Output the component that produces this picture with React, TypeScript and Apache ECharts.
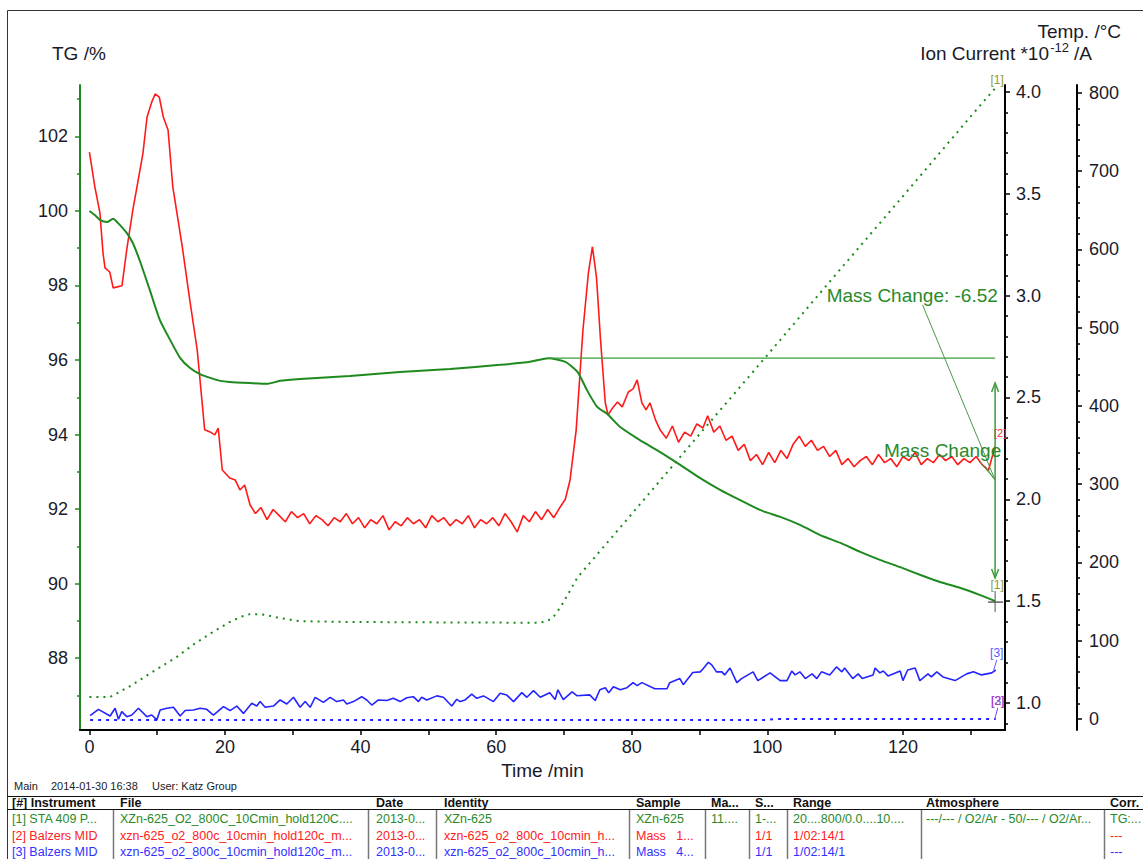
import React, { useEffect, useRef } from "react";
import * as echarts from "echarts";

// ---------- DATA ----------
// TG curve (time /min, TG /%)
const tgCurve: number[][] = [
  [0, 100.0], [0.8, 99.89], [1.55, 99.76], [2.6, 99.7], [3.5, 99.79], [4.2, 99.68], [5.5, 99.41], [6.4, 99.14],
  [7.5, 98.63], [8.9, 97.88], [10.4, 97.07], [11.9, 96.54], [13.4, 96.05], [14.8, 95.79], [16.3, 95.62],
  [17.8, 95.52], [19.3, 95.44], [20.7, 95.41], [23.7, 95.38], [26.2, 95.36], [28.1, 95.44], [31.1, 95.49],
  [38.4, 95.57], [45.8, 95.68], [53.2, 95.76], [60.6, 95.87], [65.0, 95.95], [67.7, 96.05], [70.2, 95.95],
  [72.0, 95.68], [73.4, 95.19], [74.9, 94.74], [76.4, 94.55], [78.3, 94.2], [81.2, 93.85], [84.2, 93.53],
  [87.2, 93.18], [90.1, 92.83], [93.1, 92.51], [96.0, 92.24], [99.0, 91.97], [101.9, 91.79], [104.9, 91.57],
  [107.8, 91.3], [110.8, 91.09], [113.7, 90.85], [116.7, 90.63], [119.6, 90.44], [122.6, 90.23], [125.5, 90.04],
  [128.5, 89.88], [131.4, 89.69], [133.6, 89.53],
];

// Temperature (time /min, °C)
const tempCurve: number[][] = [
  [0, 28], [3, 28], [4.1, 33], [6, 42], [8, 53], [10.4, 66], [13, 80], [15.3, 95], [18, 110], [20.7, 124],
  [22.5, 131], [23.7, 134], [25.2, 134], [26.5, 132], [28.1, 129], [31, 125], [38.4, 124], [50, 123.5],
  [66.5, 123], [67.7, 126], [68.5, 131], [69.5, 143], [70.5, 158], [72, 181], [80, 262], [90, 364],
  [100, 465], [110, 567], [120, 668], [130, 770], [133.6, 806],
];

// [2] Ion current, red trace
const ionRed: number[][] = [
  [0, 3.705], [0.8, 3.534], [1.55, 3.406], [2.0, 3.21], [2.3, 3.136], [3.0, 3.116], [3.5, 3.038], [4.8, 3.048],
  [5.5, 3.224], [6.4, 3.42], [7.2, 3.568], [7.9, 3.7], [8.5, 3.877], [9.2, 3.951], [9.7, 3.99], [10.3, 3.975],
  [10.9, 3.877], [11.6, 3.813], [12.3, 3.534], [13.7, 3.239], [14.8, 2.979], [15.9, 2.733], [17.0, 2.341],
  [17.8, 2.331], [18.5, 2.316], [19.0, 2.35], [19.6, 2.144], [20.7, 2.105], [21.5, 2.095], [22.2, 2.046],
  [22.9, 2.07], [23.7, 1.972],
  [24.5, 1.93], [25.3, 1.96], [26.2, 1.9], [27.1, 1.95], [28.0, 1.92], [28.9, 1.89], [29.8, 1.94], [30.7, 1.91],
  [31.6, 1.93], [32.5, 1.88], [33.4, 1.92], [34.3, 1.9], [35.2, 1.87], [36.1, 1.91], [37.0, 1.89], [37.9, 1.93],
  [38.8, 1.88], [39.7, 1.91], [40.6, 1.86], [41.5, 1.9], [42.4, 1.88], [43.3, 1.92], [44.2, 1.85], [45.1, 1.89],
  [46.0, 1.87], [46.9, 1.91], [47.8, 1.88], [48.7, 1.9], [49.6, 1.86], [50.5, 1.92], [51.4, 1.89], [52.3, 1.91],
  [53.2, 1.87], [54.1, 1.9], [55.0, 1.88], [55.9, 1.92], [56.8, 1.86], [57.7, 1.9], [58.6, 1.88], [59.5, 1.91],
  [60.4, 1.87], [61.3, 1.93], [62.2, 1.89], [63.1, 1.84], [64.0, 1.92], [64.9, 1.89], [65.8, 1.94], [66.7, 1.9],
  [67.6, 1.95], [68.5, 1.91], [69.4, 1.96],
  [70.2, 2.0], [70.9, 2.095], [71.8, 2.34], [72.8, 2.83], [73.6, 3.11], [74.2, 3.24], [74.8, 3.09], [75.4, 2.78],
  [76.1, 2.473], [76.5, 2.414], [77.2, 2.45], [77.9, 2.478], [78.6, 2.454], [79.5, 2.527], [80.2, 2.542],
  [80.8, 2.586], [81.5, 2.473], [82.1, 2.439], [82.7, 2.473], [83.5, 2.39], [84.2, 2.34],
  [85.1, 2.3], [86.0, 2.36], [86.9, 2.28], [87.8, 2.33], [88.7, 2.31], [89.6, 2.37], [90.5, 2.35], [91.2, 2.41],
  [92.1, 2.33], [93.0, 2.36], [93.9, 2.29], [94.8, 2.31], [95.7, 2.24], [96.6, 2.27], [97.5, 2.19], [98.4, 2.22],
  [99.3, 2.17], [100.2, 2.23], [101.1, 2.18], [102.0, 2.24], [102.9, 2.2], [103.8, 2.27], [104.7, 2.31],
  [105.6, 2.26], [106.5, 2.29], [107.4, 2.24], [108.3, 2.26], [109.2, 2.21], [110.1, 2.24], [111.0, 2.17],
  [111.9, 2.2], [112.8, 2.16], [113.7, 2.19], [114.6, 2.21], [115.5, 2.17], [116.4, 2.22], [117.3, 2.18],
  [118.2, 2.2], [119.1, 2.16], [120.0, 2.21], [120.9, 2.19], [121.8, 2.23], [122.7, 2.17], [123.6, 2.2],
  [124.5, 2.18], [125.4, 2.22], [126.3, 2.19], [127.2, 2.21], [128.1, 2.17], [129.0, 2.2], [129.9, 2.18],
  [130.8, 2.21], [131.7, 2.17], [132.6, 2.14], [133.1, 2.2], [133.6, 2.26],
];

// [3] Ion current, blue solid trace
const ionBlue: number[][] = [
  [0.1, 0.938], [1.33, 0.969], [3.05, 0.936], [3.79, 0.974], [4.28, 0.92], [4.77, 0.958], [5.51, 0.933],
  [6.25, 0.941], [7.23, 0.974], [8.46, 0.933], [9.2, 0.941], [9.94, 0.917], [10.43, 0.966], [11.41, 0.974],
  [12.4, 0.979], [13.38, 0.936], [14.12, 0.963], [15.34, 0.966], [16.33, 0.974], [17.31, 0.969], [18.29, 0.941],
  [19.77, 0.982], [20.75, 0.963], [21.73, 0.985], [22.72, 0.949], [23.95, 0.999], [24.69, 0.985], [25.18, 1.007],
  [25.92, 0.979], [27.15, 0.985], [28.13, 1.015], [29.12, 0.995], [30.1, 1.028], [31.08, 0.979], [31.82, 1.007],
  [32.56, 0.979], [33.3, 1.028], [34.52, 1.003], [35.51, 1.028], [36.49, 1.007], [37.47, 1.015], [37.96, 0.995],
  [38.95, 1.007], [40.17, 1.031], [40.91, 1.015], [41.65, 0.99], [42.63, 1.015], [43.86, 1.012], [44.84, 1.023],
  [45.83, 1.007], [46.81, 1.026], [47.79, 1.031], [48.53, 1.007], [49.02, 1.028], [49.76, 1.015], [51.24, 1.035],
  [52.22, 1.028], [53.45, 0.985], [54.19, 1.018], [54.68, 1.007], [55.42, 1.015], [56.4, 1.044], [57.14, 1.023],
  [58.13, 1.035], [59.6, 1.007], [60.59, 1.048], [61.57, 1.039], [62.56, 1.007], [63.79, 1.051], [64.53, 1.028],
  [65.51, 1.061], [66.5, 1.028], [67.9, 1.05], [68.7, 1.017], [69.1, 1.065], [69.9, 1.017], [71.2, 1.055],
  [71.9, 1.036], [73.8, 1.04], [74.6, 1.012], [75.3, 1.065], [76.1, 1.075], [76.6, 1.05], [77.3, 1.08],
  [78.3, 1.065], [79.3, 1.075], [80.2, 1.1], [80.8, 1.085], [81.5, 1.1], [83.4, 1.07], [85.2, 1.07], [85.6, 1.1],
  [87.1, 1.12], [87.6, 1.09], [89.0, 1.15], [90.1, 1.153], [90.5, 1.167], [91.3, 1.2], [91.8, 1.187],
  [92.5, 1.153], [93.3, 1.153], [93.7, 1.138], [94.5, 1.172], [95.5, 1.1], [96.2, 1.12], [97.9, 1.153],
  [98.6, 1.11], [100.4, 1.148], [101.9, 1.11], [102.9, 1.11], [103.6, 1.157], [104.1, 1.138], [104.8, 1.153],
  [105.6, 1.12], [106.6, 1.143], [107.3, 1.12], [108.0, 1.153], [109.2, 1.138], [110.2, 1.177], [111.0, 1.153],
  [111.4, 1.172], [112.6, 1.12], [113.4, 1.143], [114.0, 1.12], [115.6, 1.138], [115.9, 1.172], [116.6, 1.148],
  [117.1, 1.157], [117.8, 1.133], [119.6, 1.157], [120.0, 1.11], [120.7, 1.162], [121.8, 1.172], [122.5, 1.11],
  [123.7, 1.143], [124.2, 1.128], [125.0, 1.153], [125.9, 1.128], [127.7, 1.11], [129.4, 1.143], [130.4, 1.153],
  [131.6, 1.138], [133.1, 1.148], [133.7, 1.162],
];

// Ion current, blue dotted trace
const ionBlueDotted: number[][] = [
  [0.1, 0.917], [50, 0.917], [100, 0.917], [101, 0.921], [133.7, 0.922],
];

// Mass change annotation (time, TG)
const massStepStart = [67.7, 96.05];
const massStepEnd = [133.6, 89.53];
const massChangeText = "Mass Change: -6.52";

// Tick labels
const xLabels = [0, 20, 40, 60, 80, 100, 120];
const xTicks = [0, 10, 20, 30, 40, 50, 60, 70, 80, 90, 100, 110, 120, 130];
const tgLabels = [88, 90, 92, 94, 96, 98, 100, 102];
const tgMinor = [87, 89, 91, 93, 95, 97, 99, 101, 103];
const ionLabels = [1.0, 1.5, 2.0, 2.5, 3.0, 3.5, 4.0];
const ionMinor = [0.9, 1.1, 1.2, 1.3, 1.4, 1.6, 1.7, 1.8, 1.9, 2.1, 2.2, 2.3, 2.4, 2.6, 2.7, 2.8, 2.9, 3.1, 3.2, 3.3, 3.4, 3.6, 3.7, 3.8, 3.9];
const tempLabels = [0, 100, 200, 300, 400, 500, 600, 700, 800];
const tempMinor = [20, 40, 60, 80, 120, 140, 160, 180, 220, 240, 260, 280, 320, 340, 360, 380, 420, 440, 460, 480, 520, 540, 560, 580, 620, 640, 660, 680, 720, 740, 760, 780];

// Footer table
const footerItems = ["Main", "2014-01-30 16:38", "User: Katz Group"];
const tableHeader = ["[#] Instrument", "File", "Date", "Identity", "Sample", "Ma...", "S...", "Range", "Atmosphere", "Corr."];
const tableRow1 = ["[1] STA 409 P...", "XZn-625_O2_800C_10Cmin_hold120C....", "2013-0...", "XZn-625", "XZn-625", "11....", "1-...", "20....800/0.0....10....", "---/--- / O2/Ar - 50/--- / O2/Ar...", "TG:..."];
const tableRow2 = ["[2] Balzers MID", "xzn-625_o2_800c_10cmin_hold120c_m...", "2013-0...", "xzn-625_o2_800c_10cmin_h...", "Mass\u00a0\u00a0\u00a01...", "", "1/1", "1/02:14/1", "", "---"];
const tableRow3 = ["[3] Balzers MID", "xzn-625_o2_800c_10cmin_hold120c_m...", "2013-0...", "xzn-625_o2_800c_10cmin_h...", "Mass\u00a0\u00a0\u00a04...", "", "1/1", "1/02:14/1", "", "---"];

// ---------- STYLE / LAYOUT ----------
const FONT = '"Liberation Sans", Arial, Helvetica, sans-serif';
const GREEN = "#1e8a1e";
const ANNO_GREEN = "#3c9c3c";
const RED = "#ff1a1a";
const BLUE = "#2424ff";
const LABEL = "#1a1a2a";
const colX = [12, 120, 376, 444, 636, 711, 755, 793, 926, 1110];
const colSep = [113, 368, 436, 629, 705, 749, 787, 921, 1104];

function txt(x: number, y: number, text: string, size: number, fill: string, align = "left", weight = "normal", vAlign = "middle"): any {
  return {
    type: "text",
    x,
    y,
    silent: true,
    style: {
      text,
      fill,
      fontSize: size,
      fontFamily: FONT,
      fontWeight: weight,
      align,
      verticalAlign: vAlign,
      textAlign: align,
      textVerticalAlign: vAlign,
    },
  };
}

function lineEl(x1: number, y1: number, x2: number, y2: number, stroke: string, w = 1): any {
  return { type: "line", silent: true, shape: { x1, y1, x2, y2 }, style: { stroke, lineWidth: w } };
}

function buildGraphic(): any[] {
  const els: any[] = [];
  els.push({ type: "rect", silent: true, shape: { x: 7.5, y: 10.5, width: 1160, height: 900 }, style: { fill: "none", stroke: "#333", lineWidth: 1 } });
  // axis titles
  els.push(txt(52, 53, "TG /%", 19, LABEL));
  els.push(txt(1121, 31, "Temp. /\u00b0C", 19, LABEL, "right"));
  els.push(txt(1092, 53, " /A", 19, LABEL, "right"));
  els.push(txt(1069, 47, "-12", 13, LABEL, "right"));
  els.push(txt(1049, 53, "Ion Current *10", 19, LABEL, "right"));
  // footer
  const fx = [14, 51, 152];
  footerItems.forEach((s, i) => els.push(txt(fx[i], 786, s, 11, "#222")));
  els.push(lineEl(7, 796.5, 1150, 796.5, "#111", 1.2));
  els.push(lineEl(7, 809.5, 1150, 809.5, "#111", 1.2));
  tableHeader.forEach((s, i) => els.push(txt(colX[i], 802.5, s, 12.5, "#111", "left", "bold")));
  const rows = [
    { cells: tableRow1, color: "#2a8a2a", y: 819 },
    { cells: tableRow2, color: "#ff2020", y: 835.5 },
    { cells: tableRow3, color: "#3030ff", y: 852 },
  ];
  rows.forEach((r) => r.cells.forEach((s, i) => { if (s) els.push(txt(colX[i], r.y, s, 12.5, r.color)); }));
  colSep.forEach((x) => els.push(lineEl(x + 0.5, 810, x + 0.5, 870, "#777", 1.5)));
  return els;
}

export default function App() {
  const ref = useRef<HTMLDivElement>(null);
  useEffect(() => {
    if (!ref.current) return;
    const chart = echarts.init(ref.current, null, { renderer: "svg" });

    const axisLabelBase = { fontSize: 18, color: LABEL, fontFamily: FONT };

    const tgAnno = {
      type: "custom",
      xAxisIndex: 0,
      yAxisIndex: 0,
      silent: true,
      clip: false,
      z: 10,
      data: [[0, 0]],
      renderItem: (_p: any, api: any) => {
        const P = (x: number, y: number) => api.coord([x, y]);
        const hl0 = P(massStepStart[0], massStepStart[1]);
        const hl1 = P(massStepEnd[0], massStepStart[1]);
        const end = P(massStepEnd[0], massStepEnd[1]);
        const aTop = P(massStepEnd[0], 95.38);
        const aBot = P(massStepEnd[0], 90.15);
        const target = P(massStepEnd[0], 92.78);
        const lead0 = P(122.9, 97.48);
        const wing = P(131.4, 93.26);
        const t1 = P(134.0, 97.72);
        const t2 = P(134.5, 93.56);
        const c: any[] = [
          lineEl(hl0[0], hl0[1], hl1[0], hl1[1], ANNO_GREEN, 1.3),
          lineEl(aTop[0], aTop[1], aBot[0], aBot[1], ANNO_GREEN, 1.5),
          { type: "polyline", shape: { points: [[aTop[0] - 3.5, aTop[1] + 9], [aTop[0], aTop[1]], [aTop[0] + 3.5, aTop[1] + 9]] }, style: { stroke: ANNO_GREEN, lineWidth: 1.5, fill: null } },
          { type: "polyline", shape: { points: [[aBot[0] - 3.5, aBot[1] - 9], [aBot[0], aBot[1]], [aBot[0] + 3.5, aBot[1] - 9]] }, style: { stroke: ANNO_GREEN, lineWidth: 1.5, fill: null } },
          lineEl(lead0[0], lead0[1], target[0], target[1], "#4a9a4a", 1),
          lineEl(wing[0], wing[1], target[0], target[1], "#4a9a4a", 1),
          lineEl(wing[0] + 5, wing[1] + 4, target[0], target[1], "#4a9a4a", 1),
          txt(t1[0], t1[1], massChangeText, 19, "#2a8a2a", "right"),
          txt(t2[0], t2[1], "Mass Change", 19, "#2a8a2a", "right"),
          lineEl(end[0] - 7, end[1] + 1, end[0] + 8, end[1] + 1, "#111", 1),
          lineEl(end[0], end[1] - 10, end[0], end[1] + 11, "#555", 1),
          txt(end[0] + 2, end[1] - 16, "[1]", 12, "#8c9a3c", "center"),
        ];
        return { type: "group", children: c };
      },
    };

    const tempAnno = {
      type: "custom",
      xAxisIndex: 0,
      yAxisIndex: 4,
      silent: true,
      clip: false,
      z: 10,
      data: [[0, 0]],
      renderItem: (_p: any, api: any) => {
        const last = tempCurve[tempCurve.length - 1];
        const e = api.coord([last[0], last[1]]);
        return { type: "group", children: [txt(e[0] + 2, e[1] - 8, "[1]", 12, "#8c9a3c", "center")] };
      },
    };

    const ionAnno = {
      type: "custom",
      xAxisIndex: 0,
      yAxisIndex: 2,
      silent: true,
      clip: false,
      z: 10,
      data: [[0, 0]],
      renderItem: (_p: any, api: any) => {
        const r = ionRed[ionRed.length - 1];
        const b = ionBlue[ionBlue.length - 1];
        const d = ionBlueDotted[ionBlueDotted.length - 1];
        const er = api.coord([r[0], r[1]]);
        const eb = api.coord([b[0], b[1]]);
        const ed = api.coord([d[0], d[1]]);
        return {
          type: "group",
          children: [
            txt(er[0] + 5, er[1] - 13, "[2]", 11, "#ff3030", "center"),
            txt(eb[0] + 1, eb[1] - 17, "[3]", 12, "#5a5aff", "center"),
            lineEl(eb[0] + 1, eb[1] - 10, eb[0] - 2, eb[1], "#5a5aff", 1),
            txt(ed[0] + 2, ed[1] - 18, "[3]", 12, "#5a5aff", "center"),
            txt(ed[0] + 2, ed[1] - 18, "[2]", 12, "#b040c0", "center"),
            lineEl(ed[0] + 2, ed[1] - 11, ed[0] - 1, ed[1], "#6a4aff", 1),
          ],
        };
      },
    };

    const option: any = {
      animation: false,
      backgroundColor: "#ffffff",
      grid: { left: 80, right: 138, top: 85, height: 645 },
      xAxis: [
        {
          type: "value",
          min: -1.39,
          max: 135.06,
          axisLine: { show: true, onZero: false, lineStyle: { color: "#000", width: 2 } },
          axisTick: { show: true, customValues: xTicks, length: 5, lineStyle: { color: "#000", width: 1.5 } },
          axisLabel: { ...axisLabelBase, customValues: xLabels, margin: 8 },
          splitLine: { show: false },
          name: "Time /min",
          nameLocation: "middle",
          nameGap: 28,
          nameTextStyle: { fontSize: 19, color: LABEL, fontFamily: FONT },
        },
      ],
      yAxis: [
        {
          type: "value",
          position: "left",
          min: 86.07,
          max: 103.38,
          axisLine: { show: true, onZero: false, lineStyle: { color: GREEN, width: 2 } },
          axisTick: { show: true, customValues: tgLabels, length: 5, lineStyle: { color: GREEN, width: 1.5 } },
          axisLabel: { ...axisLabelBase, customValues: tgLabels, margin: 12 },
          splitLine: { show: false },
        },
        {
          type: "value",
          position: "left",
          min: 86.07,
          max: 103.38,
          axisLine: { show: false, onZero: false },
          axisTick: { show: true, customValues: tgMinor, length: 3, lineStyle: { color: GREEN, width: 1.5 } },
          axisLabel: { show: false },
          splitLine: { show: false },
        },
        {
          type: "value",
          position: "right",
          offset: 0,
          min: 0.8675,
          max: 4.034,
          axisLine: { show: true, onZero: false, lineStyle: { color: "#000", width: 2 } },
          axisTick: { show: true, customValues: ionLabels, length: 5, lineStyle: { color: "#000", width: 1.5 } },
          axisLabel: { ...axisLabelBase, customValues: ionLabels, margin: 11, formatter: (v: number) => v.toFixed(1) },
          splitLine: { show: false },
        },
        {
          type: "value",
          position: "right",
          offset: 0,
          min: 0.8675,
          max: 4.034,
          axisLine: { show: false, onZero: false },
          axisTick: { show: true, customValues: ionMinor, length: 3, lineStyle: { color: "#000", width: 1.5 } },
          axisLabel: { show: false },
          splitLine: { show: false },
        },
        {
          type: "value",
          position: "right",
          offset: 72,
          min: -14.06,
          max: 810.2,
          axisLine: { show: true, onZero: false, lineStyle: { color: "#000", width: 2 } },
          axisTick: { show: true, customValues: tempLabels, length: 5, lineStyle: { color: "#000", width: 1.5 } },
          axisLabel: { ...axisLabelBase, customValues: tempLabels, margin: 12 },
          splitLine: { show: false },
        },
        {
          type: "value",
          position: "right",
          offset: 72,
          min: -14.06,
          max: 810.2,
          axisLine: { show: false, onZero: false },
          axisTick: { show: true, customValues: tempMinor, length: 3, lineStyle: { color: "#000", width: 1.5 } },
          axisLabel: { show: false },
          splitLine: { show: false },
        },
      ],
      series: [
        {
          name: "Temp",
          type: "line",
          xAxisIndex: 0,
          yAxisIndex: 4,
          data: tempCurve,
          showSymbol: false,
          lineStyle: { color: "#1a8a1a", width: 2, type: [2, 5] },
          z: 2,
        },
        {
          name: "Ion dotted",
          type: "line",
          xAxisIndex: 0,
          yAxisIndex: 2,
          data: ionBlueDotted,
          showSymbol: false,
          lineStyle: { color: BLUE, width: 2, type: [3, 5] },
          z: 2,
        },
        {
          name: "Ion blue",
          type: "line",
          xAxisIndex: 0,
          yAxisIndex: 2,
          data: ionBlue,
          showSymbol: false,
          lineStyle: { color: BLUE, width: 1.6 },
          z: 3,
        },
        {
          name: "Ion red",
          type: "line",
          xAxisIndex: 0,
          yAxisIndex: 2,
          data: ionRed,
          showSymbol: false,
          lineStyle: { color: RED, width: 1.6 },
          z: 3,
        },
        {
          name: "TG",
          type: "line",
          xAxisIndex: 0,
          yAxisIndex: 0,
          data: tgCurve,
          showSymbol: false,
          smooth: 0.2,
          lineStyle: { color: GREEN, width: 2 },
          z: 4,
        },
        tgAnno,
        tempAnno,
        ionAnno,
      ],
      graphic: buildGraphic(),
    };

    chart.setOption(option);
    return () => chart.dispose();
  }, []);

  return <div ref={ref} style={{ position: "absolute", left: 0, top: 0, width: 1143, height: 859, background: "#fff" }} />;
}
